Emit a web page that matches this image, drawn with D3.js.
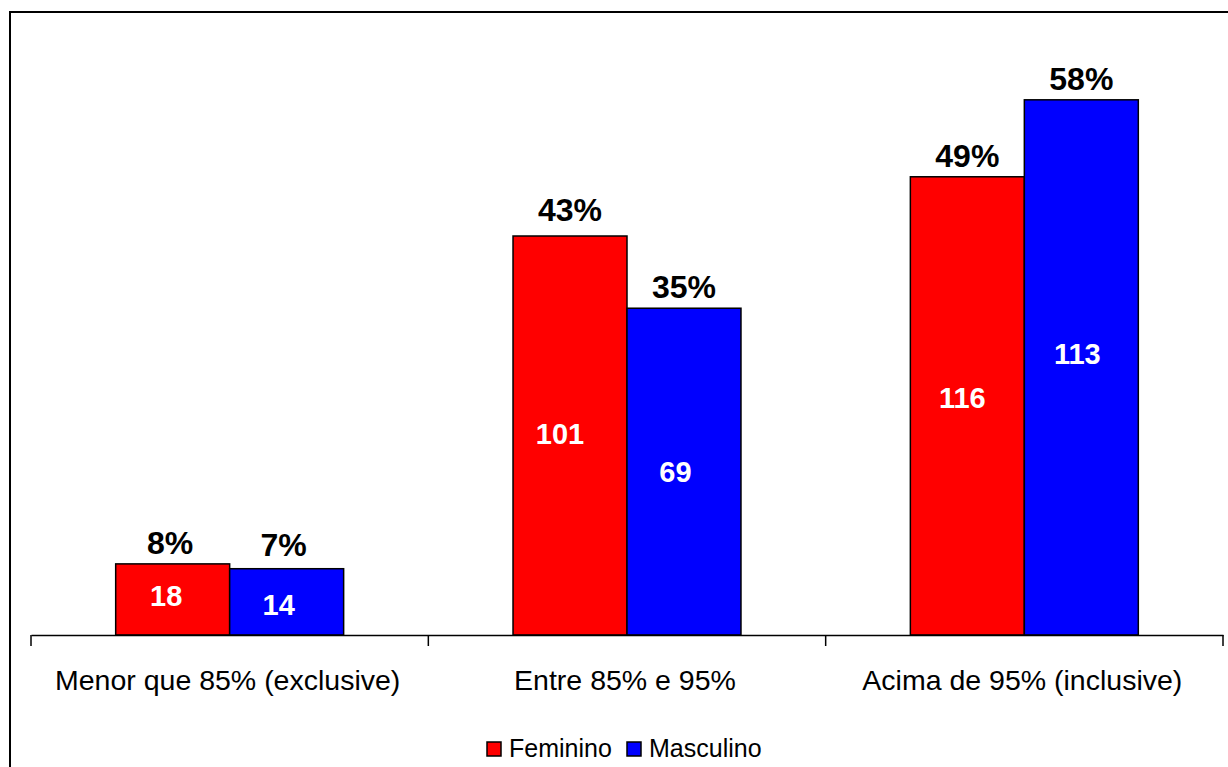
<!DOCTYPE html>
<html>
<head>
<meta charset="utf-8">
<script src="https://cdn.jsdelivr.net/npm/d3@7"></script>
<style>
  html, body { margin: 0; padding: 0; background: #fff; }
  svg { display: block; }
  text { font-family: "Liberation Sans", Arial, sans-serif; }
</style>
</head>
<body>
<svg id="chart" width="1228" height="767"></svg>
<script>
// Faixas de frequência
const categories = ["Menor que 85% (exclusive)", "Entre 85% e 95%", "Acima de 95% (inclusive)"];
const series = ["Feminino", "Masculino"];
const colors = ["#ff0000", "#0000ff"];

// Número de alunos por faixa
const feminino_n = [18, 101, 116];
const masculino_n = [14, 69, 113];

// Percentual de cada faixa dentro do sexo
const feminino_pct = [7.66, 42.98, 49.36];
const masculino_pct = [7.14, 35.20, 57.65];

// Ajustes manuais dos rótulos (dx, dy em px), por série e faixa
const countNudge = [
  [[-6.5, -3.5], [-10, -2], [-5, -8.5]],
  [[-8, 2.5], [-8.5, 0], [-4, -13.5]]
];
const pctNudge = [
  [[-2.5, 0], [0, -5], [0, 0]],
  [[-3, -3], [0, 0], [0, 0]]
];

const counts = [feminino_n, masculino_n];
const pcts = [feminino_pct, masculino_pct];

const svg = d3.select("#chart");

// moldura
svg.append("rect")
  .attr("x", 10).attr("y", 12)
  .attr("width", 1240).attr("height", 780)
  .attr("fill", "none").attr("stroke", "#000").attr("stroke-width", 2);

const x0 = d3.scaleBand().domain(categories).range([31, 1223]).paddingInner(0);
const x1 = d3.scaleBand().domain(series).range([0, x0.bandwidth()]).paddingInner(0).paddingOuter(0.743);
const y = d3.scaleLinear().domain([0, 60]).range([635, 78]);

const data = [];
categories.forEach((c, i) => {
  series.forEach((s, j) => {
    data.push({ cat: c, ser: s, i, j, pct: pcts[j][i], n: counts[j][i] });
  });
});

const cx = d => x0(d.cat) + x1(d.ser) + x1.bandwidth() / 2;

const g = svg.append("g");

g.selectAll("rect.bar").data(data).join("rect")
  .attr("class", "bar")
  .attr("x", d => x0(d.cat) + x1(d.ser))
  .attr("y", d => y(d.pct))
  .attr("width", x1.bandwidth())
  .attr("height", d => y(0) - y(d.pct))
  .attr("fill", d => colors[d.j])
  .attr("stroke", "#000").attr("stroke-width", 1.5);

// percentuais acima das barras
g.selectAll("text.pct").data(data).join("text")
  .attr("class", "pct")
  .attr("x", d => cx(d) + pctNudge[d.j][d.i][0])
  .attr("y", d => y(d.pct) - 10 + pctNudge[d.j][d.i][1])
  .attr("text-anchor", "middle")
  .attr("font-size", 32).attr("font-weight", "bold").attr("fill", "#000")
  .text(d => Math.round(d.pct) + "%");

// contagens dentro das barras
g.selectAll("text.n").data(data).join("text")
  .attr("class", "n")
  .attr("x", d => cx(d) + countNudge[d.j][d.i][0])
  .attr("y", d => (y(d.pct) + y(0)) / 2 + countNudge[d.j][d.i][1])
  .attr("dy", "0.36em")
  .attr("text-anchor", "middle")
  .attr("font-size", 29).attr("font-weight", "bold").attr("fill", "#fff")
  .text(d => d.n);

// eixo x
const axis = d3.axisBottom(x0).tickSize(0).tickFormat("");
const ax = svg.append("g").attr("transform", "translate(0,635)").call(axis);
ax.select(".domain").attr("stroke", "#000").attr("stroke-width", 1.5);

const boundaries = [x0.range()[0]].concat(categories.map(c => x0(c) + x0.bandwidth()));
ax.selectAll("line.sep").data(boundaries).join("line")
  .attr("class", "sep")
  .attr("x1", d => d).attr("x2", d => d)
  .attr("y1", 0).attr("y2", 11)
  .attr("stroke", "#000").attr("stroke-width", 1.5);

ax.selectAll("text.cat").data(categories).join("text")
  .attr("class", "cat")
  .attr("x", d => x0(d) + x0.bandwidth() / 2 - 2)
  .attr("y", 55)
  .attr("text-anchor", "middle")
  .attr("font-size", 28.5).attr("fill", "#000")
  .text(d => d);

// legenda
const legend = svg.append("g").attr("transform", "translate(487,742)");
const legendX = [0, 140];
series.forEach((s, j) => {
  const lg = legend.append("g").attr("transform", `translate(${legendX[j]},0)`);
  lg.append("rect").attr("width", 14).attr("height", 14)
    .attr("fill", colors[j]).attr("stroke", "#000").attr("stroke-width", 1.5);
  lg.append("text").attr("x", 22).attr("y", 15)
    .attr("font-size", 25).attr("fill", "#000").text(s);
});
</script>
</body>
</html>
